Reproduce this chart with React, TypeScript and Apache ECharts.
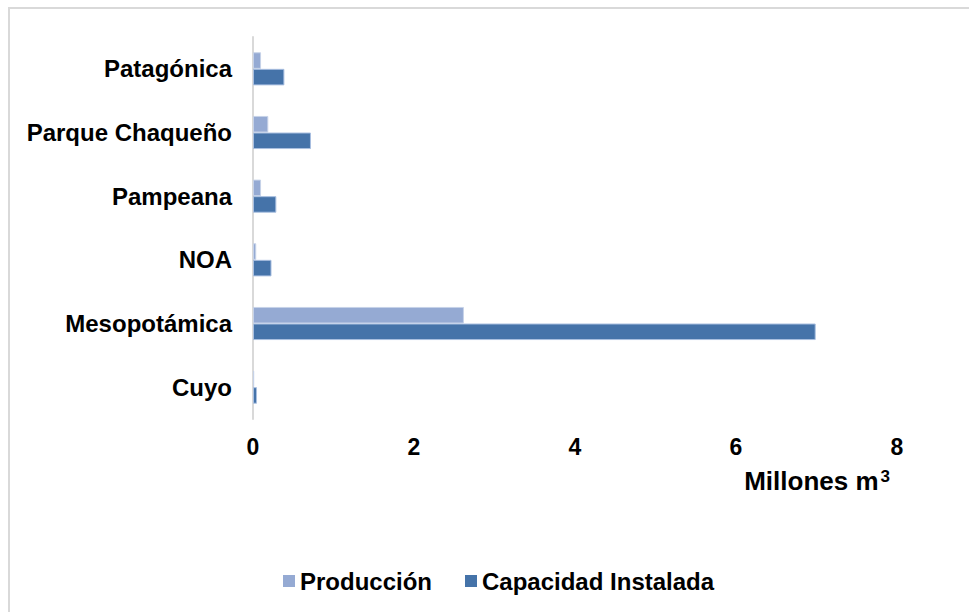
import React, { useEffect, useRef } from "react";
import * as echarts from "echarts";

const categories = ["Cuyo", "Mesopotámica", "NOA", "Pampeana", "Parque Chaqueño", "Patagónica"];
const produccion = [0.015, 2.62, 0.04, 0.1, 0.19, 0.1];
const capacidad = [0.05, 6.99, 0.23, 0.29, 0.72, 0.39];
const seriesNames = ["Producción", "Capacidad Instalada"];
const axisTitleMain = "Millones m";
const axisTitleSup = "3";

export default function App() {
  const ref = useRef<HTMLDivElement>(null);
  useEffect(() => {
    const chart = echarts.init(ref.current!, null, { renderer: "svg" });
    const font = "Arial, 'Liberation Sans', sans-serif";
    chart.setOption({
      animation: false,
      backgroundColor: "#ffffff",
      textStyle: { fontFamily: font },
      grid: { left: 253, right: 72, top: 37, bottom: 193, containLabel: false },
      legend: {
        data: seriesNames,
        left: 278,
        top: 564,
        itemWidth: 12,
        itemHeight: 12,
        itemGap: 33,
        icon: "rect",
        itemStyle: { borderWidth: 0 },
        textStyle: { fontFamily: font, fontSize: 24, fontWeight: "bold", color: "#000" },
      },
      xAxis: {
        type: "value",
        min: 0,
        max: 8,
        interval: 2,
        splitLine: { show: false },
        axisLine: { show: false },
        axisTick: { show: false },
        axisLabel: { fontFamily: font, fontSize: 23, fontWeight: "bold", color: "#000", margin: 16 },
      },
      yAxis: {
        type: "category",
        data: categories,
        axisLine: { show: true, lineStyle: { color: "#d9d9d9", width: 2 } },
        axisTick: { show: false },
        axisLabel: { fontFamily: font, fontSize: 24, fontWeight: "bold", color: "#000", margin: 21 },
      },
      series: [
        {
          name: seriesNames[0],
          type: "bar",
          data: produccion,
          barGap: "0%",
          barCategoryGap: "48%",
          itemStyle: { color: "#95aad3", borderColor: "#c6d2e8", borderWidth: 1 },
        },
        {
          name: seriesNames[1],
          type: "bar",
          data: capacidad,
          barGap: "0%",
          barCategoryGap: "48%",
          itemStyle: { color: "#4573a9", borderColor: "#a9bfe0", borderWidth: 1 },
        },
      ],
      graphic: [
        {
          type: "rect",
          shape: { x: 9, y: 8, width: 1100, height: 1100 },
          style: { fill: "none", stroke: "#d9d9d9", lineWidth: 2 },
          silent: true,
        },
        {
          type: "text",
          x: 890,
          y: 481,
          style: {
            text: "{m|" + axisTitleMain + "}{s|" + axisTitleSup + "}",
            fontFamily: font,
            fontWeight: "bold",
            fill: "#000",
            align: "right",
            verticalAlign: "middle",
            rich: {
              m: { fontFamily: font, fontSize: 26, fontWeight: "bold", fill: "#000", padding: [0, 2, 0, 0] },
              s: { fontFamily: font, fontSize: 17, fontWeight: "bold", fill: "#000", padding: [0, 0, 10, 0] },
            },
          },
        },
      ],
    });
    return () => chart.dispose();
  }, []);
  return (
    <div
      ref={ref}
      style={{ position: "fixed", left: 0, top: 0, width: 969, height: 612 }}
    />
  );
}
